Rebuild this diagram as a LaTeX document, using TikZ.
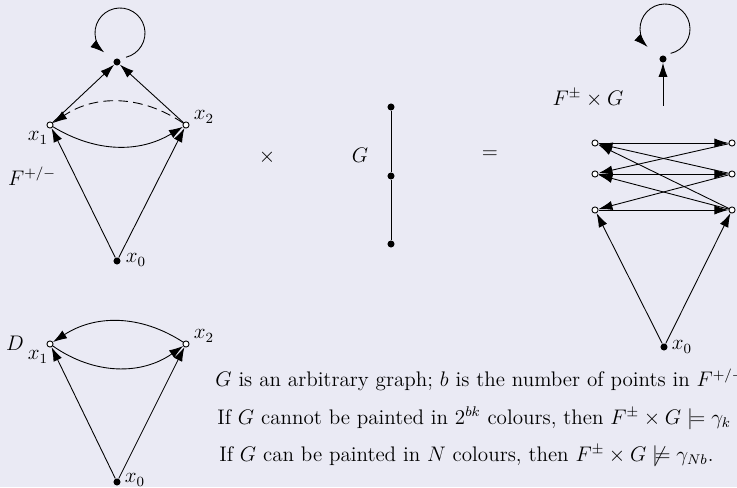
\documentclass[tikz,border=0pt,12pt]{standalone}
\usepackage{amssymb}
\usetikzlibrary{arrows.meta}
\definecolor{bgcol}{RGB}{234,234,244}

\begin{document}
\begin{tikzpicture}[x=0.02cm,y=0.02cm,
    vdot/.style={circle,fill,inner sep=0pt,minimum size=4pt},
    vring/.style={circle,draw,fill=white,inner sep=0pt,minimum size=3.5pt,line width=0.5pt},
    arr/.style={-{Latex[length=8pt,width=5.2pt]},line width=0.5pt},
    link/.style={line width=0.5pt},
    txt/.style={anchor=base west,inner sep=0pt}]
  \fill[bgcol] (0,0) rectangle (737,487);
  \useasboundingbox (0,0) rectangle (737,487);

  % F^{+/-}
  \node[vdot] (t) at (117,425) {};
  \coordinate (tc) at (120,454);
  \node[vring] (a1) at (50,362) {};
  \node[vring] (a2) at (186,362) {};
  \node[vdot] (a0) at (117,226) {};
  \node (la1) at (38,349) {$x_1$};
  \node (la2) at (204,370) {$x_2$};
  \node (la0) at (136,227) {$x_0$};
  \node (lf) at (32,311) {$F^{+/-}$};
  \draw[arr] ([shift={(-76:25)}]tc) arc[start angle=-76,end angle=231,radius=25];
  \draw[arr] (a1) -- (t);
  \draw[arr] (a2) -- (t);
  \draw[arr,dash pattern=on 5.5pt off 3pt] (a2) to[bend right=34] (a1);
  \draw[arr] (a1) to[bend right=31] (a2);
  \draw[arr] (a0) -- (a1);
  \draw[arr] (a0) -- (a2);

  % times G equals
  \node (times) at (267,330) {$\times$};
  \node[vdot] (g1) at (391,380) {};
  \node[vdot] (g2) at (391,311) {};
  \node[vdot] (g3) at (391,243) {};
  \node (lg) at (360,332) {$G$};
  \draw[link] (g1) -- (g2);
  \draw[link] (g2) -- (g3);
  \node (equals) at (490,332) {$=$};

  % F^{\pm} x G
  \node[vdot] (t2) at (663,428) {};
  \coordinate (tc2) at (665,458);
  \coordinate (up) at (663,381);
  \draw[arr] ([shift={(-77:25)}]tc2) arc[start angle=-77,end angle=226,radius=25];
  \draw[arr] (up) -- (t2);
  \node (lfg) at (588,389) {$F^{\pm}\times G$};
  \foreach \i/\y in {1/344,2/313,3/277} {
    \node[vring] (l\i) at (595,\y) {};
    \node[vring] (r\i) at (732,\y) {};
    \draw[arr] (l\i) -- (r\i);
  }
  \foreach \a/\b in {1/2,2/1,2/3,3/1,3/2}
    \draw[arr] (r\a) -- (l\b);
  \node[vdot] (b0) at (664,140) {};
  \node (lb0) at (682,140) {$x_0$};
  \draw[arr] (b0) -- (l3);
  \draw[arr] (b0) -- (r3);

  % D
  \node[vring] (d1) at (50,143) {};
  \node[vring] (d2) at (186,143) {};
  \node[vdot] (d0) at (117,5) {};
  \node (ld) at (15,144) {$D$};
  \node (ld1) at (38,130) {$x_1$};
  \node (ld2) at (204,151) {$x_2$};
  \node (ld0) at (135,7) {$x_0$};
  \draw[arr] (d2) to[bend right=33] (d1);
  \draw[arr] (d1) to[bend right=35] (d2);
  \draw[arr] (d0) -- (d1);
  \draw[arr] (d0) -- (d2);

  % text
  \node[txt] (txa) at (215,100) {$G$ is an arbitrary graph; $b$ is the number of points in $F^{+/-}$};
  \node[txt] (txb) at (217,63) {If $G$ cannot be painted in $2^{bk}$ colours, then $F^{\pm}\times G\models\gamma_k$};
  \node[txt] (txc) at (219,26) {If $G$ can be painted in $N$ colours, then $F^{\pm}\times G\not\models\gamma_{Nb}$.};
\end{tikzpicture}
\end{document}
